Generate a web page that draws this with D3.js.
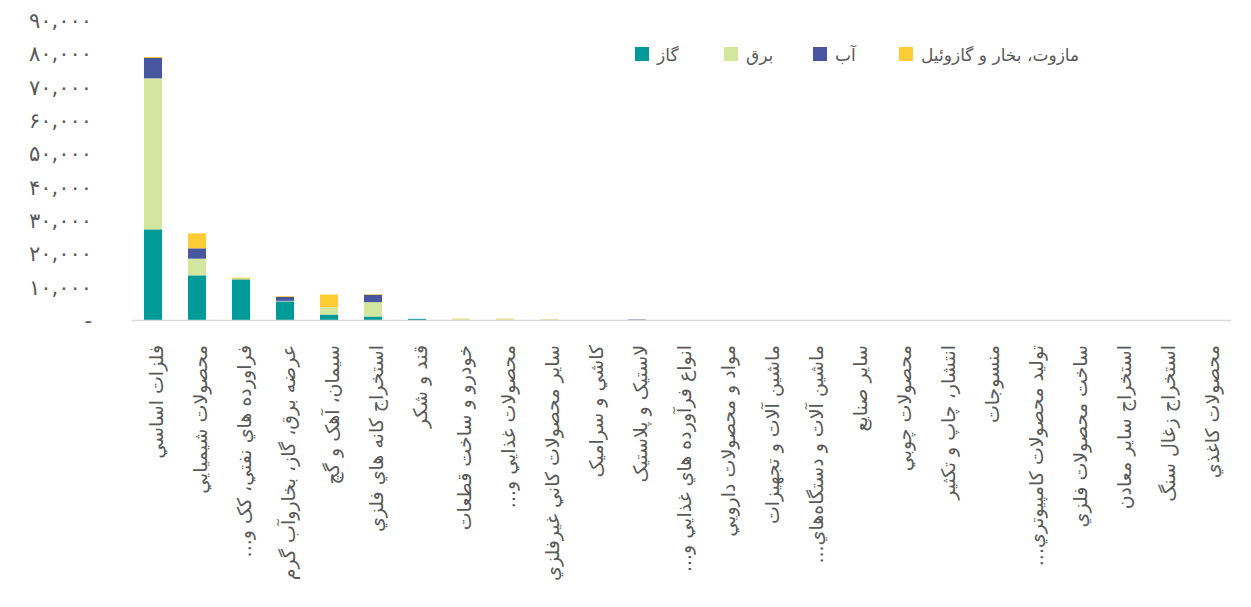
<!DOCTYPE html>
<html>
<head>
<meta charset="utf-8">
<script src="https://cdn.jsdelivr.net/npm/d3@7"></script>
<style>
  body { margin: 0; background: #fff; }
  text { font-family: "DejaVu Sans", sans-serif; fill: #595959; }
</style>
</head>
<body>
<svg id="viz"></svg>
<script>
var width = 1251;
var height = 607;

// categories (persian labels, as shown)
var categories = [
    "فلزات اساسي",
    "محصولات شيميايي",
    "فراورده هاي نفتي، كک و...",
    "عرضه برق، گاز، بخاروآب گرم",
    "سيمان، آهک و گچ",
    "استخراج كانه هاي فلزي",
    "قند و شكر",
    "خودرو و ساخت قطعات",
    "محصولات غذايي و...",
    "ساير محصولات كاني غيرفلزي",
    "كاشي و سرامیک",
    "لاستيک و پلاستيک",
    "انواع فرآورده هاي غذايي و...",
    "مواد و محصولات دارويي",
    "ماشين آلات و تجهيزات",
    "ماشين آلات و دستگاه‌هاي...",
    "ساير صنايع",
    "محصولات چوبي",
    "انتشار، چاپ و تكثير",
    "منسوجات",
    "توليد محصولات كامپيوتري...",
    "ساخت محصولات فلزي",
    "استخراج ساير معادن",
    "استخراج زغال سنگ",
    "محصولات كاغذي"
];

var gas   = [27200, 13400, 12200, 5600, 1650, 1050, 350, 0, 0, 50, 0, 0, 0, 0, 0, 0, 0, 0, 0, 0, 0, 0, 0, 0, 0];
var power = [45300, 5000, 150, 150, 2200, 4300, 0, 250, 250, 100, 0, 0, 0, 0, 0, 0, 0, 0, 0, 0, 0, 0, 0, 0, 0];
var water = [6100, 3100, 0, 1200, 0, 2200, 0, 0, 0, 0, 0, 150, 0, 0, 0, 0, 0, 0, 0, 0, 0, 0, 0, 0, 0];
var mazut = [300, 4500, 350, 250, 3800, 200, 0, 150, 150, 100, 0, 0, 0, 0, 0, 0, 0, 0, 0, 0, 0, 0, 0, 0, 0];

var seriesNames = ["گاز", "برق", "آب", "مازوت، بخار و گازوئيل"];
var seriesKeys = ["gas", "power", "water", "mazut"];
var colors = ["#009a99", "#d3e69e", "#48569f", "#fecd35"];
var yTicks = [0, 10000, 20000, 30000, 40000, 50000, 60000, 70000, 80000, 90000];

var rows = categories.map(function (c, i) {
    return { cat: c, gas: gas[i], power: power[i], water: water[i], mazut: mazut[i] };
});

var svg = d3.select("#viz")
    .attr("width", width)
    .attr("height", height);

var x = d3.scaleBand()
    .domain(categories)
    .range([131, 1231])
    .paddingInner(0.59)
    .paddingOuter(0.295);

var y = d3.scaleLinear()
    .domain([0, 90000])
    .range([320, 20]);

var faDigits = "۰۱۲۳۴۵۶۷۸۹";
function faFormat(d) {
    if (d === 0) return "-";
    return d3.format(",")(d).replace(/\d/g, function (c) { return faDigits[+c]; });
}

// y axis labels only
var yAxis = d3.axisLeft(y)
    .tickValues(yTicks)
    .tickFormat(faFormat)
    .tickSize(0)
    .tickPadding(0);

var yg = svg.append("g")
    .attr("transform", "translate(92,0)")
    .call(yAxis);
yg.select(".domain").remove();
yg.selectAll("text")
    .style("font-size", "21px")
    .attr("dy", "0.35em");

// stacked bars
var stack = d3.stack().keys(seriesKeys);
var layers = stack(rows);

svg.append("g").selectAll("g")
    .data(layers)
    .enter().append("g")
    .attr("fill", function (d, i) { return colors[i]; })
    .selectAll("rect")
    .data(function (d) { return d; })
    .enter().append("rect")
    .attr("x", function (d) { return x(d.data.cat); })
    .attr("width", x.bandwidth())
    .attr("y", function (d) { return y(d[1]); })
    .attr("height", function (d) { return y(d[0]) - y(d[1]); });

// x axis
var xAxis = d3.axisBottom(x).tickSize(0).tickPadding(0);
var xg = svg.append("g")
    .attr("transform", "translate(0," + y(0) + ")")
    .call(xAxis);
xg.select(".domain")
    .attr("stroke", "#d9d9d9")
    .attr("stroke-width", 1.5);
xg.selectAll("text")
    .style("font-size", "19px")
    .style("direction", "rtl")
    .attr("transform", "rotate(-90)")
    .attr("text-anchor", "start")
    .attr("x", -25)
    .attr("y", 3)
    .attr("dy", "0.35em");

// legend
var legendX = [635, 724, 813, 899];
var legend = svg.append("g").selectAll("g")
    .data(seriesNames)
    .enter().append("g")
    .attr("transform", function (d, i) { return "translate(" + legendX[i] + ",47)"; });

legend.append("rect")
    .attr("width", 14)
    .attr("height", 14)
    .attr("fill", function (d, i) { return colors[i]; });

legend.append("text")
    .attr("x", 22)
    .attr("y", 8)
    .attr("dy", "0.35em")
    .style("font-size", "17px")
    .text(function (d) { return d; });
</script>
</body>
</html>
